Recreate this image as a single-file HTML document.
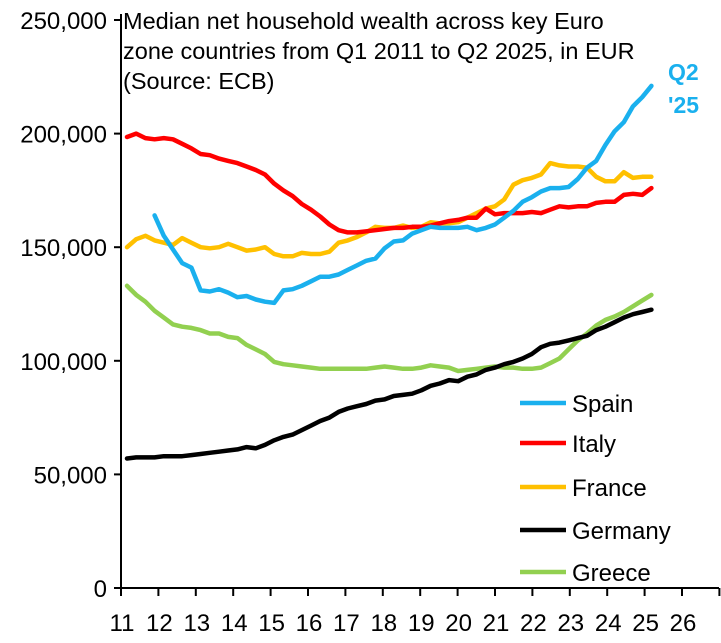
<!DOCTYPE html>
<html><head><meta charset="utf-8"><style>
body{margin:0;background:#fff;width:721px;height:638px;overflow:hidden}
svg{font-family:"Liberation Sans",Arial,sans-serif}
</style></head><body>
<svg id="chart" width="721" height="638">
<g id="axes"></g><g id="series"></g>
<text x="123" y="29" font-size="23.5"><tspan x="123">Median net household wealth across key Euro</tspan><tspan x="123" dy="30">zone countries from Q1 2011 to Q2 2025, in EUR</tspan><tspan x="123" dy="30">(Source: ECB)</tspan></text>
<text x="668" y="80" font-size="23" font-weight="bold" fill="#1ab0ee">Q2</text>
<text x="668" y="113" font-size="23" font-weight="bold" fill="#1ab0ee">'25</text>
<g id="legend"></g>
</svg>
<script>
const yTicks=[0,50000,100000,150000,200000,250000];
const xTickLabels=["11","12","13","14","15","16","17","18","19","20","21","22","23","24","25","26"];
const seriesNames=["Spain","Italy","France","Germany","Greece"];
const seriesColors=["#1ab0ee","#ff0000","#ffc000","#000000","#92d050"];
const spainStart=3;
const spain=[164,155,149,143,141,131,130.5,131.5,130,128,128.5,127,126,125.5,131,131.5,133,135,137,137,138,140,142,144,145,149.5,152.5,153,156,157.5,159,158.5,158.5,158.5,159,157.5,158.5,160,163,166,170,172,174.5,176,176,176.5,180,185,188,195,201,205,212,216,221];
const italy=[198.5,200,198,197.5,198,197.5,195.5,193.5,191,190.5,189,188,187,185.5,184,182,178,175,172.5,169,166.5,163.5,160,157.5,156.5,156.5,157,157.5,158,158.5,158.5,159,159,159.5,160.5,161.5,162,163,163,167,164.5,165,165,165,165.5,165,166.5,168,167.5,168,168,169.5,170,170,173,173.5,173,176];
const france=[150,153.5,155,153,152,151,154,152,150,149.5,150,151.5,150,148.5,149,150,147,146,146,147.5,147,147,148,152,153,154.5,156.5,159,158.5,158.5,159.5,158.5,159,161,160.5,160.5,161,163,165,167,168,171,177.5,179.5,180.5,182,187,186,185.5,185.5,185,181,179,179,183,180.5,181,181];
const germany=[57,57.5,57.5,57.5,58,58,58,58.5,59,59.5,60,60.5,61,62,61.5,63,65,66.5,67.5,69.5,71.5,73.5,75,77.5,79,80,81,82.5,83,84.5,85,85.5,87,89,90,91.5,91,93,94,96,97,98.5,99.5,101,103,106,107.5,108,109,110,111,113.5,115,117,119,120.5,121.5,122.5];
const greece=[133,129,126,122,119,116,115,114.5,113.5,112,112,110.5,110,107,105,103,99.5,98.5,98,97.5,97,96.5,96.5,96.5,96.5,96.5,96.5,97,97.5,97,96.5,96.5,97,98,97.5,97,95.5,96,96.5,97,97.5,97,97,96.5,96.5,97,99,101,105,109,112,115.5,118,119.5,121.5,124,126.5,129];

const NS="http://www.w3.org/2000/svg";
const y0=588,yTop=20,x0=121,yearW=37.4,q0x=127,qW=9.2;
const yS=v=>y0-(v/250000)*(y0-yTop);
const xYear=i=>x0+i*yearW;
const xQ=i=>q0x+i*qW;
function mk(tag,attrs,parent){const e=document.createElementNS(NS,tag);for(const k in attrs)e.setAttribute(k,attrs[k]);parent.appendChild(e);return e;}
const axes=document.getElementById('axes');
let a=mk('line',{x1:x0,y1:y0,x2:719,y2:y0,stroke:'#000','stroke-width':2},axes);


a=mk('line',{x1:x0,y1:14,x2:x0,y2:y0,stroke:'#000','stroke-width':2},axes);


yTicks.forEach(v=>{
 mk('line',{x1:x0-7,y1:yS(v),x2:x0,y2:yS(v),stroke:'#000','stroke-width':2},axes);
 const t=mk('text',{x:107,y:yS(v)+9,'font-size':24,'text-anchor':'end'},axes);
 t.textContent=v.toLocaleString('en-US');
 
 
});
for(let i=0;i<=16;i++){mk('line',{x1:xYear(i),y1:y0,x2:xYear(i),y2:y0+8,stroke:'#000','stroke-width':2},axes);}
xTickLabels.forEach((l,i)=>{
 const t=mk('text',{x:xYear(i)+1,y:631,'font-size':24,'text-anchor':'middle'},axes);
 t.textContent=l;
 
 
});
const ser=document.getElementById('series');
const data=[[spain,spainStart],[italy,0],[france,0],[germany,0],[greece,0]];
[4,3,2,1,0].forEach(s=>{
 const [arr,st]=data[s];
 const pts=arr.map((v,i)=>xQ(i+st).toFixed(1)+','+yS(v*1000).toFixed(1)).join(' ');
 const p=mk('polyline',{points:pts,fill:'none',stroke:seriesColors[s],'stroke-width':4.5,'stroke-linejoin':'round','stroke-linecap':'round'},ser);
 
 
});
const lg=document.getElementById('legend');
const ly=[403,443,487,530,572];
seriesNames.forEach((n,i)=>{
 const g=mk('g',{},lg);
 
 
 mk('line',{x1:520,y1:ly[i],x2:566,y2:ly[i],stroke:seriesColors[i],'stroke-width':4.5},g);
 const t=mk('text',{x:572,y:ly[i]+9,'font-size':24},g);
 t.textContent=n;
});
</script>
</body></html>
